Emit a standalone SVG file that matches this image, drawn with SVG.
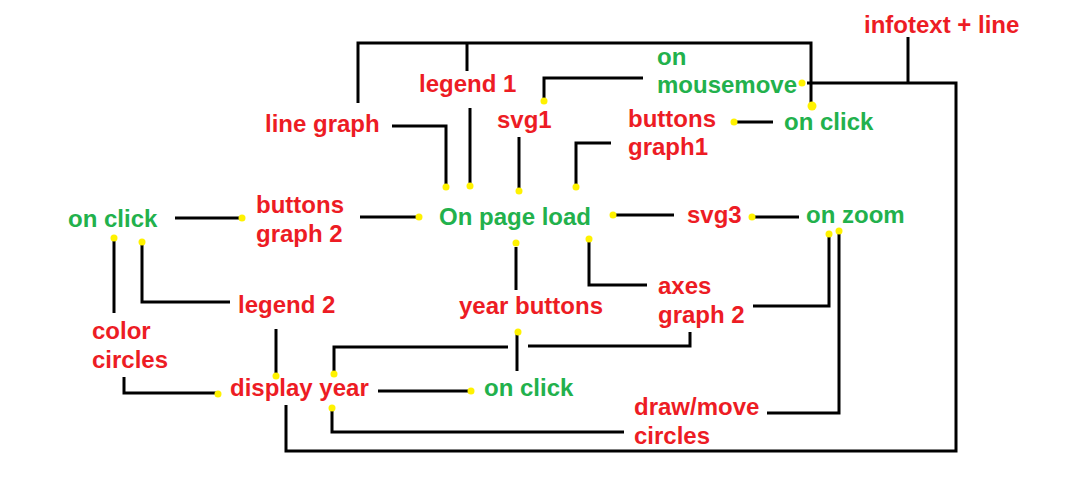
<svg xmlns="http://www.w3.org/2000/svg" width="1069" height="485" viewBox="0 0 1069 485">
<style>
text{font-family:"Liberation Sans",Arial,sans-serif;font-weight:bold;font-size:24px}
.r{fill:#ED1C24}
.g{fill:#22B14C}
.c path{fill:none;stroke:#000;stroke-width:3}
.c circle{fill:#FFF200}
</style>
<rect width="1069" height="485" fill="#fff"/>
<g class="c" id="connectors">
<path d="M358,103V43H811V106"/>
<path d="M467,43V71"/>
<path d="M470,108V186"/>
<path d="M392,126H446V187"/>
<path d="M519,137V191"/>
<path d="M643,78H544V101"/>
<path d="M611,143H576V187"/>
<path d="M734,122H773"/>
<path d="M908,37V83"/>
<path d="M807,83H956V451H286V405"/>
<path d="M175,218H242"/>
<path d="M360,217H419"/>
<path d="M613,215H674"/>
<path d="M752,217H799"/>
<path d="M114,238V313"/>
<path d="M142,242V302H230"/>
<path d="M276,329V376"/>
<path d="M124,377V393H218"/>
<path d="M516,247V290"/>
<path d="M589,239V285H647"/>
<path d="M753,306H829V234"/>
<path d="M517,332V371"/>
<path d="M334,374V347H508"/>
<path d="M690,332V346H528"/>
<path d="M378,391H471"/>
<path d="M767,413H839V231"/>
<path d="M332,408V432H624"/>
<circle cx="812" cy="106" r="4.5"/>
<circle cx="802" cy="83" r="3.5"/>
<circle cx="544" cy="101" r="3.5"/>
<circle cx="446" cy="187" r="3.5"/>
<circle cx="470" cy="186" r="3.5"/>
<circle cx="519" cy="191" r="3.5"/>
<circle cx="576" cy="187" r="3.5"/>
<circle cx="734" cy="122" r="3.5"/>
<circle cx="242" cy="218" r="3.5"/>
<circle cx="419" cy="217" r="3.5"/>
<circle cx="613" cy="215" r="3.5"/>
<circle cx="752" cy="217" r="3.5"/>
<circle cx="829" cy="234" r="3.5"/>
<circle cx="839" cy="231" r="3.5"/>
<circle cx="114" cy="238" r="3.5"/>
<circle cx="142" cy="242" r="3.5"/>
<circle cx="276" cy="376" r="3.5"/>
<circle cx="218" cy="394" r="3.5"/>
<circle cx="334" cy="374" r="3.5"/>
<circle cx="332" cy="408" r="3.5"/>
<circle cx="516" cy="243" r="3.5"/>
<circle cx="589" cy="239" r="3.5"/>
<circle cx="518" cy="332" r="3.5"/>
<circle cx="471" cy="391" r="3.5"/>
</g>
<g id="infotext"><text class="r" x="864" y="33">infotext + line</text></g>
<g id="legend1"><text class="r" x="419" y="92">legend 1</text></g>
<g id="mousemove"><text class="g" x="657" y="65">on</text><text class="g" x="657" y="93">mousemove</text></g>
<g id="linegraph"><text class="r" x="265" y="132">line graph</text></g>
<g id="svg1"><text class="r" x="497" y="128">svg1</text></g>
<g id="buttonsgraph1"><text class="r" x="628" y="127">buttons</text><text class="r" x="628" y="155">graph1</text></g>
<g id="onclick1"><text class="g" x="784" y="130">on click</text></g>
<g id="onclick2"><text class="g" x="68" y="227">on click</text></g>
<g id="buttonsgraph2"><text class="r" x="256" y="213">buttons</text><text class="r" x="256" y="242">graph 2</text></g>
<g id="pageload"><text class="g" x="439" y="225">On page load</text></g>
<g id="svg3"><text class="r" x="687" y="223">svg3</text></g>
<g id="onzoom"><text class="g" x="806" y="223">on zoom</text></g>
<g id="legend2"><text class="r" x="238" y="313">legend 2</text></g>
<g id="colorcircles"><text class="r" x="92" y="339">color</text><text class="r" x="92" y="368">circles</text></g>
<g id="yearbuttons"><text class="r" x="459" y="314">year buttons</text></g>
<g id="axesgraph2"><text class="r" x="658" y="294">axes</text><text class="r" x="658" y="323">graph 2</text></g>
<g id="displayyear"><text class="r" x="230" y="396">display year</text></g>
<g id="onclick3"><text class="g" x="484" y="396">on click</text></g>
<g id="drawmove"><text class="r" x="634" y="415">draw/move</text><text class="r" x="634" y="444">circles</text></g>
</svg>
